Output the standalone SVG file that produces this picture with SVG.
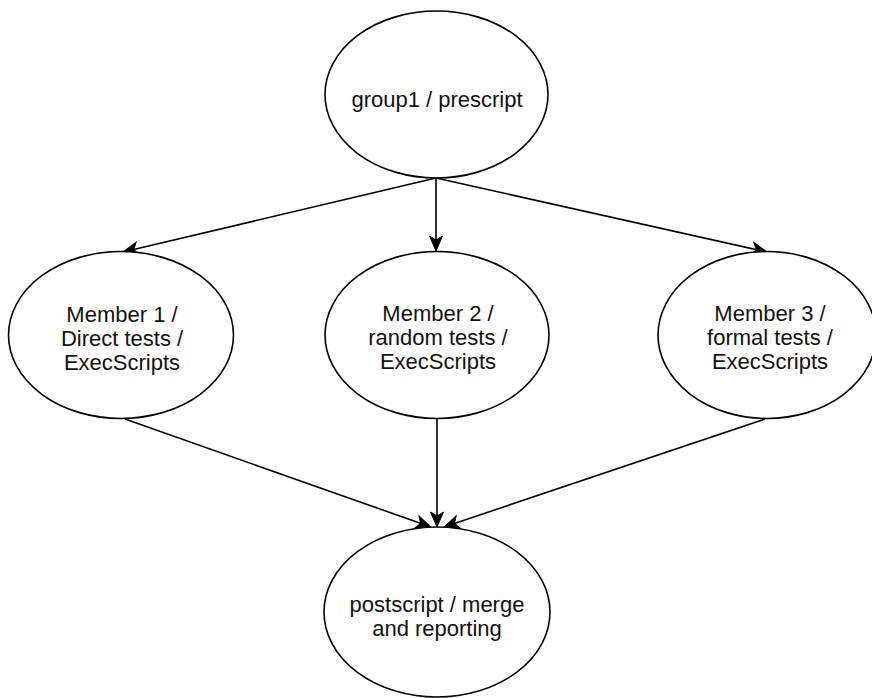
<svg xmlns="http://www.w3.org/2000/svg" width="872" height="698" viewBox="0 0 872 698">
  <style>
    .node { fill: #ffffff; stroke: #000000; stroke-width: 1.6; }
    .label { font-family: "Liberation Sans", Arial, Helvetica, sans-serif; font-size: 22px; fill: #111111; text-anchor: middle; }
    .edge { fill: none; stroke: #000000; stroke-width: 1.6; marker-end: url(#arrow); }
  </style>
  <defs>
    <marker id="arrow" markerUnits="userSpaceOnUse" viewBox="-16 -8 18 16" refX="0" refY="0" markerWidth="18" markerHeight="16" orient="auto">
      <path d="M0,0 L-15,-6.5 L-11,0 L-15,6.5 Z" fill="#000000" stroke="#000000" stroke-width="1" stroke-linejoin="miter"/>
    </marker>
  </defs>

  <rect width="872" height="698" fill="#ffffff"/>

  <!-- connectors -->
  <g id="edges">
    <line class="edge" x1="436" y1="178" x2="123" y2="252"/>
    <line class="edge" x1="436" y1="178" x2="436" y2="251"/>
    <line class="edge" x1="436" y1="178" x2="767" y2="252"/>
    <line class="edge" x1="125" y1="419" x2="431" y2="527"/>
    <line class="edge" x1="437" y1="419" x2="437" y2="527"/>
    <line class="edge" x1="765" y1="419" x2="444" y2="527"/>
  </g>

  <!-- nodes -->
  <g id="prescript">
    <ellipse class="node" cx="436.5" cy="94.5" rx="111.5" ry="83.5"/>
    <text class="label" x="437" y="107">group1 / prescript</text>
  </g>

  <g id="member1">
    <ellipse class="node" cx="121" cy="335" rx="112.5" ry="83.5"/>
    <text class="label" x="122" y="322">Member 1 /</text>
    <text class="label" x="122" y="346">Direct tests /</text>
    <text class="label" x="122" y="370">ExecScripts</text>
  </g>

  <g id="member2">
    <ellipse class="node" cx="437" cy="335" rx="112" ry="83.5"/>
    <text class="label" x="438" y="321">Member 2 /</text>
    <text class="label" x="438" y="345">random tests /</text>
    <text class="label" x="438" y="369">ExecScripts</text>
  </g>

  <g id="member3">
    <ellipse class="node" cx="767" cy="335" rx="109" ry="83.5"/>
    <text class="label" x="770" y="321">Member 3 /</text>
    <text class="label" x="770" y="345">formal tests /</text>
    <text class="label" x="770" y="369">ExecScripts</text>
  </g>

  <g id="postscript">
    <ellipse class="node" cx="437" cy="612" rx="113" ry="85"/>
    <text class="label" x="437" y="612">postscript / merge</text>
    <text class="label" x="437" y="636">and reporting</text>
  </g>
</svg>
